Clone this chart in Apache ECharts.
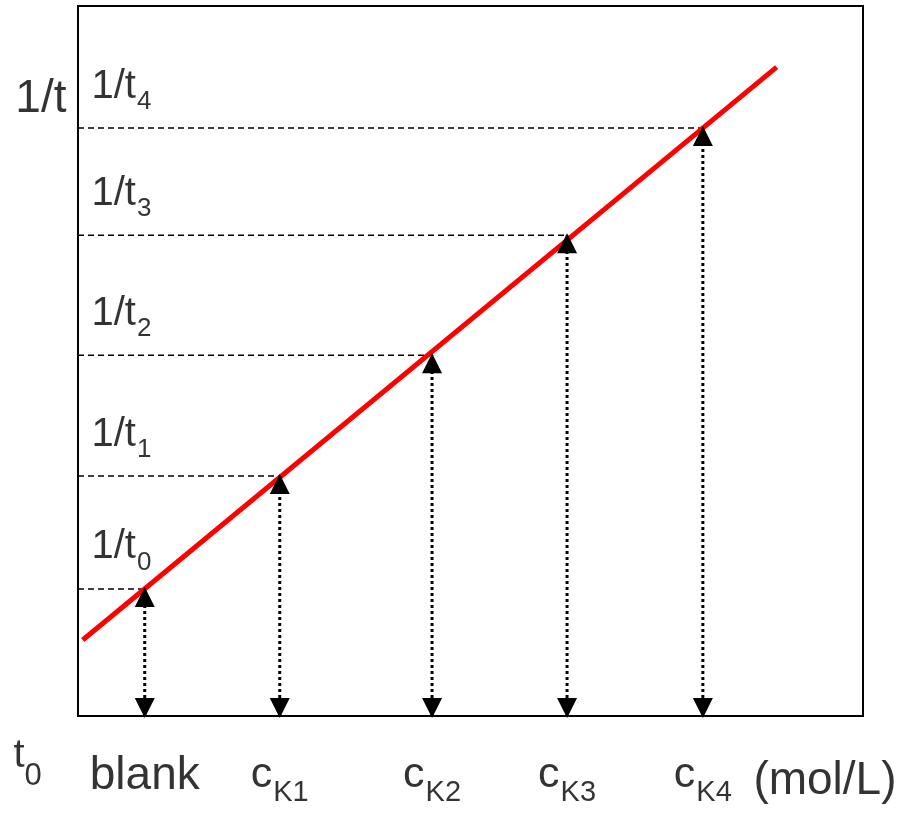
<!DOCTYPE html>
<html>
<head>
<meta charset="utf-8">
<script src="https://cdn.jsdelivr.net/npm/echarts@6/dist/echarts.min.js"></script>
<style>
html,body{margin:0;padding:0;background:#fff;}
#chart{width:910px;height:814px;}
</style>
</head>
<body>
<div id="chart"></div>
<script>
// ---- data ----
const pointX = [8.5, 25.7, 45.1, 62.3, 79.6];      // blank, cK1..cK4 (relative concentration)
const pointY = [17.9, 33.8, 50.8, 67.7, 82.8];     // 1/t0..1/t4
const fitLineX = [0.6, 89.0];
const fitLineY = [10.7, 91.4];
const yLabelMain = ['1/t', '1/t', '1/t', '1/t', '1/t'];
const yLabelSub = ['0', '1', '2', '3', '4'];
const xLabelMain = ['blank', 'c', 'c', 'c', 'c'];
const xLabelSub = ['', 'K1', 'K2', 'K3', 'K4'];
const yAxisTitle = '1/t';
const xAxisUnit = '(mol/L)';
const originMain = 't';
const originSub = '0';

// ---- chart ----
const FONT = '"Liberation Sans", Arial, sans-serif';
const chart = echarts.init(document.getElementById('chart'), null, {renderer: 'canvas'});
const txt = (size, extra) => Object.assign({fontFamily: FONT, fontSize: size, lineHeight: size, color: '#000', textBorderWidth: 0}, extra || {});

const series = [];

// dashed horizontal guides
pointX.forEach((x, i) => {
  series.push({
    type: 'line', silent: true, symbol: 'none', z: 2,
    data: [[0, pointY[i]], [x, pointY[i]]],
    lineStyle: {color: '#000', width: 1.5, type: [6, 4]}
  });
});
// dotted vertical guides
pointX.forEach((x, i) => {
  series.push({
    type: 'line', silent: true, symbol: 'none', z: 2,
    data: [[x, 0], [x, pointY[i]]],
    lineStyle: {color: '#000', width: 3, type: [3, 3]}
  });
});
// red calibration line
series.push({
  type: 'line', silent: true, symbol: 'none', z: 3,
  data: fitLineX.map((x, i) => [x, fitLineY[i]]),
  lineStyle: {color: '#ff0000', width: 5}
});
// up arrow heads at points
series.push({
  type: 'scatter', silent: true, z: 5, clip: false,
  symbol: 'triangle', symbolSize: [20, 20], symbolOffset: [0, 8],
  itemStyle: {color: '#000', opacity: 1},
  data: pointX.map((x, i) => [x, pointY[i]])
});
// down arrow heads at x axis
series.push({
  type: 'scatter', silent: true, z: 5, clip: false,
  symbol: 'triangle', symbolRotate: 180, symbolSize: [20, 20], symbolOffset: [0, -8],
  itemStyle: {color: '#000', opacity: 1},
  data: pointX.map(x => [x, 0])
});
// 1/t_i labels
series.push({
  type: 'scatter', silent: true, z: 6, clip: false,
  symbolSize: 1, itemStyle: {color: 'transparent'},
  data: pointY.map(y => [0, y]),
  label: {
    show: true, position: [14, -61], align: 'left', verticalAlign: 'top', color: '#000', textBorderWidth: 0,
    formatter: p => '{m|' + yLabelMain[p.dataIndex] + '}{s|' + yLabelSub[p.dataIndex] + '}',
    rich: {
      m: txt(40, {verticalAlign: 'top'}),
      s: txt(26, {verticalAlign: 'top', padding: [22, 0, 0, 1]})
    }
  }
});
// x labels
series.push({
  type: 'scatter', silent: true, z: 6, clip: false,
  symbolSize: 1, itemStyle: {color: 'transparent'},
  data: pointX.map(x => [x, 0]),
  label: {
    show: true, position: 'bottom', distance: 37, color: '#000', textBorderWidth: 0,
    formatter: p => xLabelSub[p.dataIndex]
      ? '{c|' + xLabelMain[p.dataIndex] + '}{s|' + xLabelSub[p.dataIndex] + '}'
      : '{m|' + xLabelMain[p.dataIndex] + '}',
    rich: {
      m: txt(46, {verticalAlign: 'top'}),
      c: txt(43, {verticalAlign: 'top'}),
      s: txt(29, {verticalAlign: 'top', padding: [25, 0, 0, 1]})
    }
  }
});
// axis titles
series.push({
  type: 'scatter', silent: true, z: 6, clip: false,
  symbolSize: 1, itemStyle: {color: 'transparent'},
  data: [
    {value: [0, 100], label: {position: [-11, 71], align: 'right', verticalAlign: 'top',
      formatter: '{m|' + yAxisTitle + '}'}},
    {value: [100, 0], label: {position: [34, 43], align: 'right', verticalAlign: 'top',
      formatter: '{m|' + xAxisUnit + '}'}},
    {value: [0, 0], label: {position: [-64, 20], align: 'left', verticalAlign: 'top',
      formatter: '{t|' + originMain + '}{s|' + originSub + '}'}}
  ],
  label: {
    show: true, color: '#000', textBorderWidth: 0,
    rich: {
      m: txt(46),
      t: txt(40, {verticalAlign: 'top'}),
      s: txt(31, {verticalAlign: 'top', padding: [25, 0, 0, 0]})
    }
  }
});

chart.setOption({
  animation: false,
  backgroundColor: '#fff',
  grid: {left: 78, right: 47, top: 6, bottom: 98, show: true, borderColor: '#000', borderWidth: 2, backgroundColor: 'transparent'},
  xAxis: {type: 'value', min: 0, max: 100, axisLine: {show: false}, axisTick: {show: false}, axisLabel: {show: false}, splitLine: {show: false}},
  yAxis: {type: 'value', min: 0, max: 100, axisLine: {show: false}, axisTick: {show: false}, axisLabel: {show: false}, splitLine: {show: false}},
  series: series
});
</script>
</body>
</html>
